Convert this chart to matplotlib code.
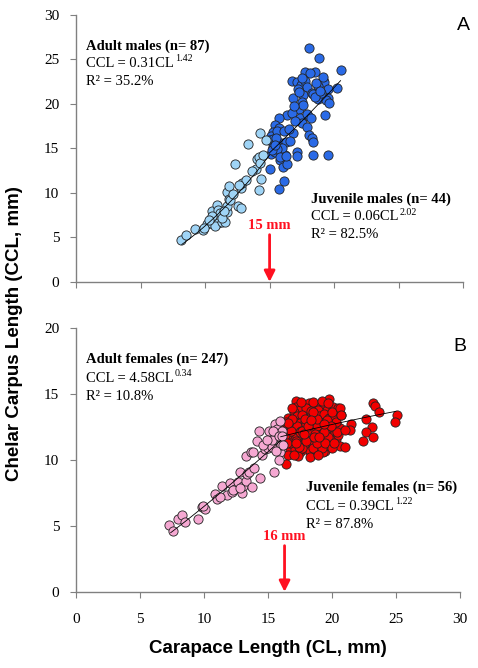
import numpy as np
import matplotlib
matplotlib.use("Agg")
import matplotlib.pyplot as plt

plt.rcParams['font.family'] = ['Liberation Serif', 'DejaVu Serif']

# --- panel A: males (CL, CCL) ---
juv_m_cl = [8.14, 8.53, 9.22, 9.82, 10.13, 10.44, 10.54, 10.9, 11.0, 11.0, 10.78, 11.34,
            11.58, 11.68, 11.68, 11.68, 11.89, 11.89, 12.33, 12.58, 12.79, 12.76, 12.84,
            13.18, 13.31, 13.95, 14.0, 14.16, 14.26, 14.26, 14.34, 14.21, 14.7, 11.16,
            11.9, 9.9, 10.5, 11.3, 12.2, 12.6, 13.6, 14.5, 10.3, 11.5]
juv_m_ccl = [4.68, 5.32, 5.96, 5.81, 6.48, 6.63, 7.98, 8.6, 8.1, 6.6, 6.33, 6.74,
             6.74, 7.87, 8.5, 10.1, 10.8, 9.36, 13.2, 8.54, 8.28, 10.5, 11.1,
             11.4, 15.5, 12.7, 13.8, 14.0, 13.4, 16.7, 11.6, 10.3, 15.9, 7.7,
             9.2, 6.1, 7.4, 7.2, 9.9, 10.9, 12.4, 14.3, 6.9, 8.0]

adu_m_cl = [18.09, 18.86, 20.5, 17.73, 18.55, 18.16, 16.74, 17.13, 17.4, 17.77, 17.88, 19.17,
            19.25, 18.78, 19.5, 20.2, 17.18, 17.62, 18.27, 18.4, 16.79, 17.49, 18.78, 19.5,
            19.38, 19.3, 17.29, 18.01, 16.38, 15.71, 17.36, 17.49, 17.88, 15.4, 15.25, 15.76,
            16.82, 18.09, 18.27, 18.35, 15.09, 14.94, 15.3, 15.5, 15.9, 16.3, 16.6, 15.25,
            15.7, 15.09, 15.4, 15.96, 16.2, 17.13, 17.13, 18.4, 19.5, 15.8, 16.07, 16.38,
            15.04, 16.12, 15.76, 15.6, 16.0, 16.7, 15.6, 17.3, 18.6, 19.0, 17.0, 15.5,
            16.1, 15.2, 17.6, 18.5, 19.1, 16.5, 15.8, 17.9, 18.9, 16.9, 15.4, 16.3, 17.5,
            19.6, 18.2]
adu_m_ccl = [26.3, 25.1, 23.8, 23.6, 23.6, 23.4, 22.5, 22.4, 22.1, 22.6, 21.9, 22.7,
             22.4, 22.0, 21.7, 21.8, 21.7, 20.97, 21.2, 21.1, 20.7, 20.2, 20.5, 20.7,
             20.4, 18.7, 19.4, 18.65, 18.7, 18.4, 18.35, 17.8, 17.4, 17.6, 16.8, 17.3,
             16.7, 16.5, 16.1, 15.7, 16.4, 15.9, 16.0, 15.7, 15.6, 15.7, 15.8, 15.2,
             15.2, 14.4, 14.6, 14.4, 14.3, 14.6, 14.16, 14.2, 14.2, 13.7, 12.9, 13.2,
             12.7, 11.35, 10.4, 16.9, 15.0, 19.0, 14.9, 21.3, 22.3, 21.2, 18.1, 16.2,
             16.9, 14.8, 19.9, 20.8, 23.0, 17.2, 14.0, 18.9, 21.4, 19.8, 15.4, 14.1, 22.9,
             20.1, 18.4]

# --- panel B: females (CL, CCL) ---
juv_f_cl = [7.29, 7.6, 7.99, 8.3, 8.5, 9.5, 9.82, 10.08, 10.86, 10.99, 11.38, 11.77,
            12.03, 12.21, 12.42, 12.68, 12.81, 12.94, 13.07, 13.28, 13.33, 13.54, 13.28, 13.65,
            13.72, 13.9, 14.32, 14.17, 14.38, 14.5, 14.77, 15.03, 15.1, 15.29, 15.47, 15.55,
            15.55, 15.73, 15.94, 16.07, 15.94, 15.89, 16.0, 15.29, 15.67, 13.86, 12.29, 11.25,
            9.95, 12.81, 14.61, 15.41, 14.9, 15.86, 16.1, 16.2]
juv_f_ccl = [5.09, 4.58, 5.53, 5.86, 5.3, 5.55, 6.45, 6.25, 7.4, 7.0, 8.05, 7.35,
             8.23, 7.58, 7.79, 8.35, 9.07, 7.53, 8.0, 8.43, 8.95, 9.07, 10.3, 10.57,
             7.92, 9.38, 12.2, 11.44, 8.64, 10.41, 10.8, 10.87, 12.2, 11.0, 9.07, 11.77,
             12.7, 12.37, 12.93, 12.2, 10.6, 9.97, 11.1, 11.5, 10.7, 10.6, 7.7, 7.2,
             6.5, 7.9, 11.1, 12.2, 11.5, 11.8, 11.8, 11.1]

adu_f_cl = [17.2, 17.2, 17.8, 18.2, 18.6, 19.0, 19.3, 19.8, 19.6, 20.1, 20.5, 20.3, 17.5, 18.0,
            18.4, 18.9, 17.0, 16.6, 17.3, 17.7, 18.2, 18.6, 19.0, 19.4, 19.8, 20.2, 16.4, 16.8,
            17.1, 17.5, 17.9, 18.3, 18.7, 19.1, 19.5, 19.9, 20.4, 16.3, 16.7, 17.0, 17.4, 17.8,
            18.1, 18.5, 18.9, 19.3, 19.7, 20.1, 20.6, 16.5, 16.9, 17.2, 17.6, 18.0, 18.4, 18.8,
            19.2, 19.6, 20.0, 16.4, 16.8, 17.1, 17.5, 17.9, 18.3, 18.7, 19.1, 19.5, 19.9, 20.3,
            16.6, 17.0, 17.4, 17.8, 18.2, 18.6, 19.0, 19.4, 19.8, 16.7, 17.1, 17.5, 17.9, 18.3,
            18.7, 19.1, 19.5, 16.6, 17.37, 18.3, 19.3, 16.4,
            16.9, 17.6, 18.5, 19.2, 20.0, 16.2, 16.5, 17.3, 18.0, 18.8, 19.6, 20.3, 16.7, 17.3,
            18.1, 18.9, 19.7, 20.5, 17.0, 17.7, 18.5, 19.2, 18.9, 17.2, 18.0, 18.8, 19.5, 17.6,
            18.4, 19.4, 20.4, 17.9, 18.8, 19.6, 16.9, 20.7, 20.6, 21.0, 20.0,
            23.2, 23.4, 23.7, 25.05, 24.9, 22.7, 23.1, 22.7, 23.2, 22.4, 21.5, 21.4, 21.0,
            20.6, 20.7, 19.7, 17.5, 18.5, 16.3, 16.5, 17.7, 18.7, 19.9, 17.4, 18.6, 16.8,
            17.8, 19.0, 18.1, 19.4, 16.6, 17.2, 18.4, 20.2]
adu_f_ccl = [14.5, 14.0, 14.2, 14.3, 14.1, 14.2, 14.0, 14.65, 13.8, 14.0, 13.9, 13.5, 13.8, 13.9,
             13.7, 13.8, 13.6, 13.2, 13.3, 13.4, 13.2, 13.4, 13.3, 13.5, 13.2, 13.1, 12.9, 12.8,
             12.9, 12.8, 12.9, 12.8, 12.9, 12.8, 12.9, 12.7, 12.6, 12.4, 12.5, 12.3, 12.4, 12.5,
             12.3, 12.4, 12.5, 12.3, 12.4, 12.2, 12.4, 12.0, 11.9, 12.0, 11.9, 12.0, 11.9, 12.0,
             11.9, 12.0, 11.8, 11.6, 11.5, 11.6, 11.5, 11.6, 11.5, 11.6, 11.5, 11.6, 11.4, 11.6,
             11.1, 11.2, 11.1, 11.2, 11.1, 11.2, 11.1, 11.2, 11.0, 10.7, 10.8, 10.6, 10.8, 10.7,
             10.8, 10.6, 10.7, 10.36, 10.3, 10.2, 10.6, 9.67,
             13.9, 14.4, 14.4, 14.5, 13.6, 12.0, 12.7, 12.6, 12.7, 12.6, 12.6, 12.9, 11.3, 11.8,
             11.7, 11.8, 11.7, 11.9, 10.4, 10.9, 10.9, 10.9, 10.4, 11.4, 11.4, 11.3, 11.3, 12.2,
             12.1, 12.1, 12.1, 13.1, 13.1, 13.0, 13.1, 13.4, 11.08, 10.95, 10.9,
             14.3, 14.1, 13.65, 13.4, 12.9, 13.1, 12.5, 12.15, 11.75, 11.4, 12.7, 12.3, 12.3,
             13.96, 13.4, 14.3, 12.1, 13.6, 11.9, 11.3, 12.2, 12.0, 12.6, 11.0, 11.7, 12.2,
             12.0, 11.7, 12.6, 12.7, 12.8, 11.3, 13.0, 11.3]

fits = {
    'juv_m': (0.06, 2.02, 8.2, 15.0),
    'adu_m': (0.31, 1.42, 15.0, 20.5),
    'juv_f': (0.39, 1.22, 7.4, 16.0),
    'adu_f': (4.58, 0.34, 16.0, 25.0),
}

FS = 10.5


def style_axes(ax, ymax, xlabels):
    ax.set_xlim(0, 30)
    ax.set_ylim(0, ymax)
    ax.set_xticks(range(0, 31, 5))
    ax.set_yticks(range(0, ymax + 1, 5))
    for s in ['top', 'right']:
        ax.spines[s].set_visible(False)
    for s in ['left', 'bottom']:
        ax.spines[s].set_color('#808080')
        ax.spines[s].set_linewidth(1.0)
    ax.tick_params(direction='out', length=4, color='#808080', labelsize=11)
    ax.tick_params(axis='y', pad=8)
    ax.tick_params(axis='x', pad=11)
    if not xlabels:
        ax.set_xticklabels([])


def fit_line(ax, key):
    a, b, x0, x1 = fits[key]
    xs = np.linspace(x0, x1, 50)
    ax.plot(xs, a * xs ** b, color='black', lw=0.6, zorder=4)


def eq_text(ax, x, y, base, sup):
    t = ax.text(x, y, base, fontsize=FS, va='center')
    fig.canvas.draw()
    bb = t.get_window_extent()
    x1, _ = ax.transData.inverted().transform((bb.x1, bb.y0))
    ax.annotate(sup, xy=(x1, y), xytext=(0.5, 3.5), textcoords='offset points',
                fontsize=7.2, va='center', ha='left')


fig = plt.figure(figsize=(4.78, 6.68), dpi=100)
axA = fig.add_axes([0.159, 0.578, 0.810, 0.400])
axB = fig.add_axes([0.159, 0.114, 0.803, 0.395])

mk = dict(s=44, edgecolors='#222222', linewidths=0.6, zorder=3)

# panel A
axA.scatter(adu_m_cl, adu_m_ccl, color='#2A6AE6', **mk)
axA.scatter(juv_m_cl, juv_m_ccl, color='#9FD4F6', **mk)
fit_line(axA, 'juv_m')
fit_line(axA, 'adu_m')
style_axes(axA, 30, False)
axA.text(0.8, 26.5, 'Adult males (n= 87)', fontsize=FS, fontweight='bold', va='center')
eq_text(axA, 0.8, 24.5, 'CCL = 0.31CL', '1.42')
axA.text(0.8, 22.5, 'R\u00b2 = 35.2%', fontsize=FS, va='center')
axA.text(18.2, 9.3, 'Juvenile males (n= 44)', fontsize=FS, fontweight='bold', va='center')
eq_text(axA, 18.2, 7.3, 'CCL = 0.06CL', '2.02')
axA.text(18.2, 5.3, 'R\u00b2 = 82.5%', fontsize=FS, va='center')
axA.text(15, 6.3, '15 mm', color='#FF1020', fontsize=FS, fontweight='bold', ha='center', va='center')
axA.annotate('', xy=(15, 0), xytext=(15, 5.3),
             arrowprops=dict(arrowstyle='-|>', color='#FF1020', lw=2, mutation_scale=16,
                             shrinkA=0, shrinkB=0), annotation_clip=False)
axA.text(30, 28.8, 'A', fontsize=14, family='Liberation Sans', ha='center', va='center')

# panel B
axB.scatter(adu_f_cl, adu_f_ccl, color='#F20000', **mk)
axB.scatter(juv_f_cl, juv_f_ccl, color='#F5A8D2', **mk)
fit_line(axB, 'juv_f')
fit_line(axB, 'adu_f')
style_axes(axB, 20, True)
axB.text(0.8, 17.6, 'Adult females (n= 247)', fontsize=FS, fontweight='bold', va='center')
eq_text(axB, 0.8, 16.2, 'CCL = 4.58CL', '0.34')
axB.text(0.8, 14.8, 'R\u00b2 = 10.8%', fontsize=FS, va='center')
axB.text(18.0, 7.9, 'Juvenile females (n= 56)', fontsize=FS, fontweight='bold', va='center')
eq_text(axB, 18.0, 6.5, 'CCL = 0.39CL', '1.22')
axB.text(18.0, 5.1, 'R\u00b2 = 87.8%', fontsize=FS, va='center')
axB.text(16.3, 4.2, '16 mm', color='#FF1020', fontsize=FS, fontweight='bold', ha='center', va='center')
axB.annotate('', xy=(16.3, 0), xytext=(16.3, 3.5),
             arrowprops=dict(arrowstyle='-|>', color='#FF1020', lw=2, mutation_scale=16,
                             shrinkA=0, shrinkB=0), annotation_clip=False)
axB.text(30, 18.6, 'B', fontsize=14, family='Liberation Sans', ha='center', va='center')
axB.set_xlabel('Carapace Length (CL, mm)', family='Liberation Sans', fontweight='bold',
               fontsize=13.5, labelpad=10)

fig.text(0.03, 0.5, 'Chelar Carpus Length (CCL, mm)', rotation=90, family='Liberation Sans',
         fontweight='bold', fontsize=13.5, ha='center', va='center')

fig.savefig('out.png', dpi=100)
